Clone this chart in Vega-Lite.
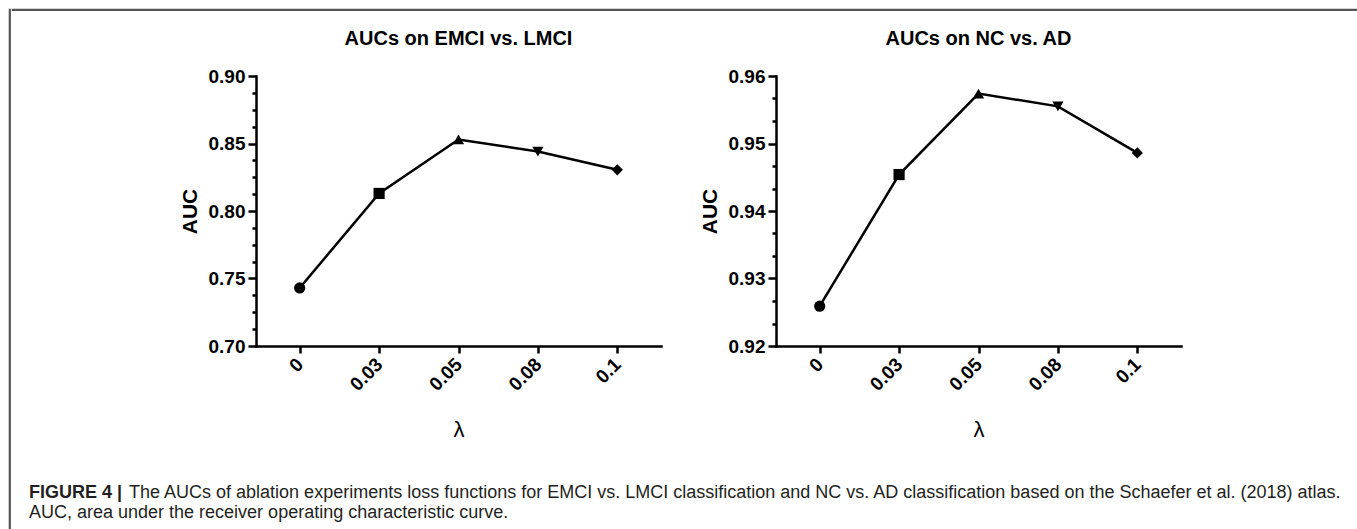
{
  "$schema": "https://vega.github.io/schema/vega-lite/v6.json",
  "background": "white",
  "padding": {"left": 8, "top": 8, "right": 0, "bottom": 0},
  "config": {
    "font": "Liberation Sans",
    "view": {"stroke": null},
    "axis": {
      "domainColor": "black", "domainWidth": 2.5, "domainCap": "square",
      "tickColor": "black", "tickWidth": 2.5,
      "labelColor": "black", "titleColor": "black",
      "labelFont": "Liberation Sans", "labelFontWeight": "bold", "labelFontSize": 19,
      "titleFont": "Liberation Sans", "titleFontSize": 21, "titleFontWeight": "bold",
      "grid": false
    },
    "title": {"fontSize": 20, "fontWeight": "bold", "color": "black", "font": "Liberation Sans", "frame": "group", "anchor": "middle", "offset": 18}
  },
  "datasets": {
    "auc": [
      {"panel": "EMCI vs. LMCI", "lambda": "0", "auc": 0.743},
      {"panel": "EMCI vs. LMCI", "lambda": "0.03", "auc": 0.813},
      {"panel": "EMCI vs. LMCI", "lambda": "0.05", "auc": 0.853},
      {"panel": "EMCI vs. LMCI", "lambda": "0.08", "auc": 0.844},
      {"panel": "EMCI vs. LMCI", "lambda": "0.1", "auc": 0.8305},
      {"panel": "NC vs. AD", "lambda": "0", "auc": 0.9259},
      {"panel": "NC vs. AD", "lambda": "0.03", "auc": 0.9454},
      {"panel": "NC vs. AD", "lambda": "0.05", "auc": 0.9574},
      {"panel": "NC vs. AD", "lambda": "0.08", "auc": 0.9555},
      {"panel": "NC vs. AD", "lambda": "0.1", "auc": 0.9486}
    ],
    "none": []
  },
  "spacing": 0,
  "hconcat": [
    {
      "width": 1, "height": 521,
      "view": {"stroke": "#555555", "strokeWidth": 1.2},
      "data": {"name": "none"},
      "mark": "point",
      "encoding": {}
    },
    {
      "spacing": 18,
      "vconcat": [
        {
          "width": 1344, "height": 1,
          "view": {"stroke": "#555555", "strokeWidth": 1.2},
          "data": {"name": "none"},
          "mark": "point",
          "encoding": {}
        },
        {
          "spacing": 16,
          "hconcat": [
            {
              "width": 1, "height": 1,
              "data": {"name": "none"},
              "mark": "point",
              "encoding": {}
            },
            {
              "spacing": 38,
              "hconcat": [
                {
                  "width": 112, "height": 1,
                  "data": {"name": "none"},
                  "mark": "point",
                  "encoding": {}
                },
                {
                  "spacing": 38,
                  "hconcat": [
                    {
                      "width": 405, "height": 270,
                      "title": {"text": "AUCs on EMCI vs. LMCI"},
                      "data": {"name": "auc"},
                      "transform": [{"filter": "datum.panel == 'EMCI vs. LMCI'"}],
                      "layer": [
                        {
                          "mark": {"type": "line", "color": "black", "strokeWidth": 2.5},
                          "encoding": {
                            "x": {"field": "lambda", "type": "ordinal", "sort": null,
                                  "scale": {"type": "point", "padding": 0.55},
                                  "axis": {"title": "λ", "titleFontWeight": "normal", "titleFontSize": 22, "titlePadding": 25,
                                           "labelAngle": -45, "labelAlign": "right", "labelBaseline": "middle", "labelPadding": 8, "tickSize": 7}},
                            "y": {"field": "auc", "type": "quantitative",
                                  "scale": {"domain": [0.7, 0.9], "nice": false, "zero": false},
                                  "axis": {"title": "AUC", "values": [0.7, 0.75, 0.8, 0.85, 0.9], "format": ".2f", "tickSize": 8, "labelPadding": 3, "titlePadding": 8}}
                          }
                        },
                        {
                          "mark": {"type": "point", "filled": true, "color": "black", "opacity": 1, "size": 125},
                          "encoding": {
                            "x": {"field": "lambda", "type": "ordinal", "sort": null},
                            "y": {"field": "auc", "type": "quantitative",
                                  "axis": {"orient": "left", "title": null, "labels": false, "domain": false, "tickSize": 4,
                                           "values": [0.7125, 0.725, 0.7375, 0.7625, 0.775, 0.7875, 0.8125, 0.825, 0.8375, 0.8625, 0.875, 0.8875]}},
                            "shape": {"field": "lambda", "type": "ordinal", "sort": null,
                                      "scale": {"domain": ["0", "0.03", "0.05", "0.08", "0.1"], "range": ["circle", "square", "triangle-up", "triangle-down", "diamond"]},
                                      "legend": null}
                          }
                        }
                      ],
                      "resolve": {"axis": {"y": "independent"}}
                    },
                    {
                      "width": 405, "height": 270,
                      "title": {"text": "AUCs on NC vs. AD"},
                      "data": {"name": "auc"},
                      "transform": [{"filter": "datum.panel == 'NC vs. AD'"}],
                      "layer": [
                        {
                          "mark": {"type": "line", "color": "black", "strokeWidth": 2.5},
                          "encoding": {
                            "x": {"field": "lambda", "type": "ordinal", "sort": null,
                                  "scale": {"type": "point", "padding": 0.55},
                                  "axis": {"title": "λ", "titleFontWeight": "normal", "titleFontSize": 22, "titlePadding": 25,
                                           "labelAngle": -45, "labelAlign": "right", "labelBaseline": "middle", "labelPadding": 8, "tickSize": 7}},
                            "y": {"field": "auc", "type": "quantitative",
                                  "scale": {"domain": [0.92, 0.96], "nice": false, "zero": false},
                                  "axis": {"title": "AUC", "values": [0.92, 0.93, 0.94, 0.95, 0.96], "format": ".2f", "tickSize": 8, "labelPadding": 3, "titlePadding": 8}}
                          }
                        },
                        {
                          "mark": {"type": "point", "filled": true, "color": "black", "opacity": 1, "size": 125},
                          "encoding": {
                            "x": {"field": "lambda", "type": "ordinal", "sort": null},
                            "y": {"field": "auc", "type": "quantitative",
                                  "axis": {"orient": "left", "title": null, "labels": false, "domain": false, "tickSize": 4,
                                           "values": [0.92333, 0.92667, 0.93333, 0.93667, 0.94333, 0.94667, 0.95333, 0.95667]}},
                            "shape": {"field": "lambda", "type": "ordinal", "sort": null,
                                      "scale": {"domain": ["0", "0.03", "0.05", "0.08", "0.1"], "range": ["circle", "square", "triangle-up", "triangle-down", "diamond"]},
                                      "legend": null}
                          }
                        }
                      ],
                      "resolve": {"axis": {"y": "independent"}}
                    }
                  ]
                }
              ],
              "title": {
                "text": "FIGURE 4 |",
                "subtitle": ["\u200b\u00a0\u00a0\u00a0\u00a0\u00a0\u00a0\u00a0\u00a0\u00a0\u00a0\u00a0\u00a0\u00a0\u00a0\u00a0\u00a0\u00a0\u00a0\u00a0\u00a0The AUCs of ablation experiments loss functions for EMCI vs. LMCI classification and NC vs. AD classification based on the Schaefer et al. (2018) atlas.", "AUC, area under the receiver operating characteristic curve."],
                "orient": "bottom", "anchor": "start", "frame": "bounds", "offset": 44,
                "font": "Liberation Sans", "fontSize": 18, "fontWeight": "bold", "color": "#231f20",
                "subtitleFont": "Liberation Sans", "subtitleFontSize": 18, "subtitleFontWeight": "normal", "subtitleColor": "#231f20",
                "subtitlePadding": -18, "subtitleLineHeight": 20
              }
            }
          ]
        }
      ]
    },
    {
      "width": 1, "height": 521,
      "view": {"stroke": "#555555", "strokeWidth": 1.2},
      "data": {"name": "none"},
      "mark": "point",
      "encoding": {}
    }
  ]
}
